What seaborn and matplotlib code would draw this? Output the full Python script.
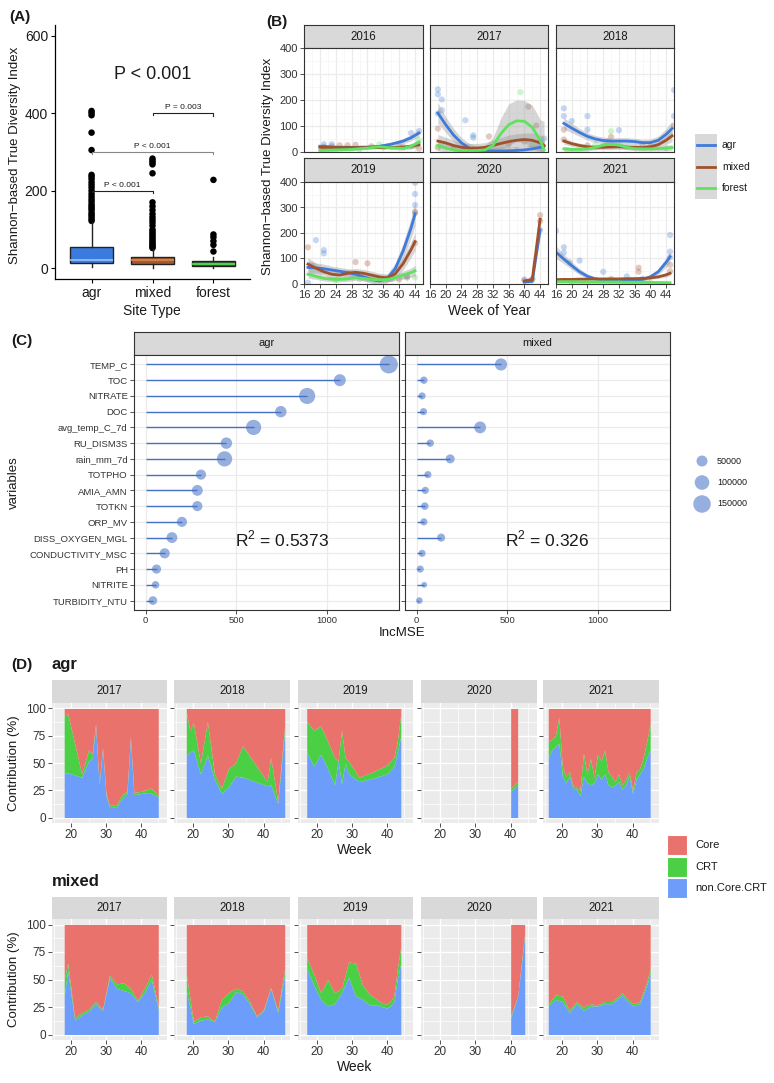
import matplotlib
matplotlib.use("Agg")
import matplotlib.pyplot as plt
from matplotlib.patches import Rectangle
import numpy as np
import pandas as pd
import seaborn as sns

plt.rcParams['font.family'] = ['Liberation Sans', 'DejaVu Sans']

W, H = 774, 1083

# ---------------- data: (A) boxplot summary + outliers
sites = ["agr", "mixed", "forest"]
box_q1 = [13, 11, 6]
box_med = [22, 20, 12]
box_q3 = [55, 30, 18]
box_lo = [2, 1, 0]
box_hi = [118, 50, 28]
out_agr = [122, 127, 133, 138, 143, 150, 155, 160, 165, 172, 178, 185, 192, 200,
           208, 215, 222, 230, 236, 241, 305, 350, 395, 401, 406]
out_mixed = [52, 55, 58, 62, 66, 70, 75, 80, 85, 90, 95, 100, 110, 118, 125, 132,
             140, 150, 160, 170, 245, 268, 273, 278, 283]
out_forest = [43, 60, 70, 80, 87, 228]

# ---------------- data: (B) smoothed diversity by week, per year
years_b = [2016, 2017, 2018, 2019, 2020, 2021]
smooth_week = {
    2016: [20, 24, 28, 32, 35, 38, 41, 43, 45],
    2017: [18, 20, 22, 24, 26, 28, 30, 32, 34, 36, 38, 40, 42, 44, 45],
    2018: [18, 20, 22, 24, 26, 28, 30, 32, 34, 36, 38, 40, 42, 44, 45.5],
    2019: [17, 19, 21, 23, 25, 27, 29, 31, 33, 35, 37, 39, 41, 43, 44],
    2020: [40, 42, 44],
    2021: [16, 18, 20, 22, 24, 26, 28, 30, 32, 34, 36, 38, 40, 42, 44, 45],
}
fit_agr = {
    2016: [22, 19, 18, 19, 22, 30, 42, 55, 73],
    2017: [150, 105, 65, 35, 15, 8, 5, 4, 4, 5, 6, 8, 12, 18, 22],
    2018: [110, 92, 75, 60, 50, 44, 42, 42, 42, 40, 36, 36, 45, 68, 90],
    2019: [65, 63, 60, 55, 50, 45, 38, 28, 18, 12, 22, 60, 130, 220, 275],
    2020: [8, 10, 212],
    2021: [125, 98, 72, 48, 30, 20, 15, 12, 12, 12, 14, 18, 28, 48, 85, 107],
}
se_agr = {
    2016: [8, 6, 6, 6, 6, 8, 10, 12, 15],
    2017: [40, 30, 25, 20, 18, 15, 15, 15, 15, 15, 15, 15, 15, 18, 22],
    2018: [22, 18, 15, 14, 13, 13, 13, 13, 13, 13, 13, 14, 16, 22, 30],
    2019: [25, 20, 18, 15, 15, 15, 15, 15, 15, 15, 18, 22, 30, 40, 45],
    2020: [5, 5, 10],
    2021: [25, 18, 15, 12, 10, 8, 8, 8, 8, 8, 8, 8, 10, 12, 18, 22],
}
fit_mixed = {
    2016: [18, 17, 17, 17, 17, 17, 19, 22, 28],
    2017: [42, 35, 25, 18, 15, 15, 18, 25, 33, 40, 45, 48, 45, 35, 25],
    2018: [42, 32, 25, 20, 18, 18, 19, 20, 19, 18, 17, 20, 28, 45, 62],
    2019: [78, 62, 48, 38, 35, 42, 46, 42, 35, 28, 24, 40, 80, 135, 166],
    2020: [12, 18, 254],
    2021: [17, 18, 18, 19, 19, 20, 20, 20, 20, 21, 21, 22, 24, 28, 36, 42],
}
se_mixed = {
    2016: [6, 5, 5, 5, 5, 5, 6, 8, 12],
    2017: [25, 22, 20, 18, 18, 18, 18, 20, 22, 25, 25, 25, 28, 30, 35],
    2018: [12, 10, 9, 9, 9, 9, 10, 10, 9, 9, 9, 10, 12, 16, 22],
    2019: [25, 20, 15, 15, 15, 15, 15, 15, 15, 15, 15, 20, 25, 30, 35],
    2020: [5, 5, 12],
    2021: [6, 5, 5, 5, 5, 5, 5, 5, 5, 5, 5, 5, 5, 6, 8, 10],
}
fit_forest = {
    2016: [6, 8, 10, 15, 20, 16, 14, 22, 38],
    2017: [25, 15, 8, 5, 5, 6, 8, 25, 70, 105, 120, 118, 95, 45, 8],
    2018: [12, 10, 10, 12, 18, 26, 30, 26, 18, 13, 12, 12, 13, 15, 17],
    2019: [38, 30, 22, 19, 18, 20, 24, 22, 18, 16, 18, 25, 35, 45, 52],
    2020: [],
    2021: [9, 9, 9, 8, 8, 8, 8, 8, 8, 7, 7, 7, 6, 6, 5, 5],
}
se_forest = {
    2016: [5, 5, 5, 5, 5, 6, 7, 9, 12],
    2017: [20, 18, 15, 15, 15, 15, 18, 30, 60, 80, 80, 80, 85, 80, 110],
    2018: [10, 8, 8, 8, 9, 10, 10, 10, 9, 8, 8, 8, 9, 10, 12],
    2019: [15, 12, 10, 10, 10, 10, 10, 10, 10, 10, 10, 12, 15, 18, 22],
    2020: [],
    2021: [5, 5, 5, 5, 5, 5, 5, 5, 5, 5, 5, 5, 5, 5, 6, 6],
}
# raw samples (week, value, site)
pt_week = {
    2016: [21, 23, 21, 43, 45, 40, 36, 21, 23, 25, 27, 29, 33, 45, 41, 35, 45, 43, 30],
    2017: [18, 18, 19, 19, 18, 25, 27, 27, 45, 44, 30, 38, 18, 18, 31, 41, 43, 40, 36, 22, 18, 39, 42, 30],
    2018: [18, 18, 20, 24, 24, 32, 46, 46, 29, 38, 18, 18, 30, 46, 40, 24, 30, 26, 44],
    2019: [17, 19, 21, 21, 18, 44, 44, 44, 42, 38, 17, 29, 32, 44, 44, 42, 40, 44, 44, 41, 24, 30],
    2020: [40, 42, 44, 40, 42, 44, 44],
    2021: [16, 18, 18, 19.5, 22, 28, 34, 45, 45, 45, 38, 37, 37, 45, 45, 30, 20, 40],
}
pt_value = {
    2016: [30, 30, 20, 73, 81, 25, 18, 17, 22, 26, 26, 28, 22, 13, 20, 30, 45, 20, 10],
    2017: [241, 222, 202, 161, 148, 122, 64, 55, 52, 40, 10, 8, 90, 17, 60, 174, 102, 40, 30, 15, 22, 230, 30, 5],
    2018: [168, 138, 119, 138, 86, 84, 238, 138, 40, 30, 48, 86, 58, 100, 20, 25, 80, 30, 15],
    2019: [5, 172, 133, 120, 70, 397, 353, 310, 30, 20, 144, 86, 81, 284, 277, 25, 18, 160, 26, 30, 15, 20],
    2020: [18, 20, 212, 13, 18, 270, 247],
    2021: [209, 144, 123, 84, 92, 48, 30, 192, 127, 105, 20, 64, 48, 75, 50, 20, 5, 5],
}
pt_site = {
    2016: ["agr"] * 7 + ["mixed"] * 8 + ["forest"] * 4,
    2017: ["agr"] * 12 + ["mixed"] * 8 + ["forest"] * 4,
    2018: ["agr"] * 10 + ["mixed"] * 6 + ["forest"] * 3,
    2019: ["agr"] * 10 + ["mixed"] * 8 + ["forest"] * 4,
    2020: ["agr"] * 3 + ["mixed"] * 4,
    2021: ["agr"] * 11 + ["mixed"] * 5 + ["forest"] * 2,
}

# ---------------- data: (C) random forest importance
c_vars = ["TEMP_C", "TOC", "NITRATE", "DOC", "avg_temp_C_7d", "RU_DISM3S", "rain_mm_7d",
          "TOTPHO", "AMIA_AMN", "TOTKN", "ORP_MV", "DISS_OXYGEN_MGL", "CONDUCTIVITY_MSC",
          "PH", "NITRITE", "TURBIDITY_NTU"]
inc_mse_agr = [1340, 1070, 890, 745, 595, 445, 435, 305, 285, 285, 200, 145, 105, 60, 55, 40]
purity_agr = [160000, 62000, 125000, 55000, 110000, 55000, 110000, 40000, 48000, 40000,
              40000, 48000, 40000, 30000, 15000, 25000]
inc_mse_mixed = [465, 40, 30, 38, 350, 75, 185, 62, 48, 45, 40, 135, 30, 20, 42, 15]
purity_mixed = [65000, 14000, 12000, 12000, 60000, 14000, 28000, 12000, 12000, 15000,
                12000, 20000, 12000, 12000, 2000, 8000]
r2_text = {"agr": r"R$^{\mathregular{2}}$ = 0.5373", "mixed": r"R$^{\mathregular{2}}$ = 0.326"}
size_legend = [50000, 100000, 150000]

# ---------------- data: (D) contribution (%) per week; Core = remainder to 100
years_d = [2017, 2018, 2019, 2020, 2021]
agr_week = {
    2017: [18, 19, 21, 23, 25, 26, 27, 28, 29, 30, 31, 32, 33, 34, 35, 36, 37, 38, 40, 42, 43, 45],
    2018: [18, 19, 20, 22, 24, 26, 28, 30, 32, 34, 41, 42, 44, 46],
    2019: [17, 19, 21, 23, 25, 26, 27, 28, 29, 32, 36, 40, 42, 43, 44],
    2020: [40, 42],
    2021: list(range(16, 46)),
}
agr_noncore = {
    2017: [41, 41, 39, 37, 52, 54, 84, 30, 63, 20, 10, 10, 9, 15, 19, 22, 72, 21, 22, 23, 22, 19],
    2018: [57, 60, 62, 40, 57, 35, 22, 28, 38, 37, 29, 30, 13, 80],
    2019: [60, 47, 58, 45, 30, 52, 31, 50, 40, 33, 36, 40, 47, 60, 75],
    2020: [24, 30],
    2021: [55, 62, 65, 68, 38, 32, 38, 27, 26, 20, 38, 32, 30, 32, 40, 35, 40, 30, 28, 30,
           33, 26, 30, 38, 22, 35, 40, 45, 55, 62],
}
agr_crt = {
    2017: [53, 54, 29, 3, 10, 4, 2, 2, 1, 2, 1, 2, 2, 3, 3, 2, 2, 2, 2, 3, 5, 1],
    2018: [40, 20, 25, 10, 31, 5, 5, 17, 12, 29, 4, 25, 2, 5],
    2019: [28, 33, 26, 25, 25, 0, 49, 5, 12, 4, 6, 8, 8, 10, 20],
    2020: [3, 3],
    2021: [15, 10, 10, 24, 9, 6, 4, 2, 2, 5, 21, 8, 24, 5, 18, 17, 22, 12, 10, 3,
           7, 4, 5, 4, 3, 7, 5, 10, 15, 24],
}
mixed_week = {
    2017: [18, 19, 21, 23, 25, 27, 29, 31, 33, 35, 37, 39, 41, 43, 45],
    2018: [18, 20, 22, 24, 26, 28, 30, 32, 34, 36, 38, 40, 42, 44, 46],
    2019: [17, 19, 21, 23, 25, 27, 29, 31, 33, 35, 37, 39, 40, 41, 42, 43, 44],
    2020: [40, 42, 44],
    2021: [16, 18, 20, 22, 24, 26, 28, 30, 32, 34, 36, 37, 38, 40, 42, 44, 45],
}
mixed_noncore = {
    2017: [35, 58, 13, 18, 21, 28, 22, 52, 42, 40, 38, 30, 38, 50, 23],
    2018: [40, 10, 13, 14, 12, 25, 29, 39, 37, 28, 16, 22, 42, 20, 55],
    2019: [60, 45, 32, 26, 28, 38, 52, 35, 32, 27, 27, 25, 24, 26, 30, 50, 65],
    2020: [15, 35, 90],
    2021: [26, 32, 30, 20, 28, 22, 26, 26, 28, 28, 33, 36, 32, 26, 28, 45, 55],
}
mixed_crt = {
    2017: [15, 7, 2, 2, 2, 2, 1, 2, 4, 7, 4, 1, 4, 5, 2],
    2018: [15, 2, 3, 3, 0, 7, 9, 3, 3, 2, 1, 1, 1, 2, 5],
    2019: [10, 10, 6, 24, 10, 4, 14, 30, 13, 10, 5, 3, 4, 4, 5, 10, 15],
    2020: [2, 0, 2],
    2021: [2, 4, 5, 2, 2, 3, 2, 1, 2, 2, 2, 2, 2, 2, 2, 3, 5],
}

# ---------------- styling
site_cols = {"agr": "#3F7BDA", "mixed": "#A0522D", "forest": "#5EE35E"}
box_cols = ["#3A7BE0", "#A65B2A", "#2F6A2F"]
med_cols = ["#9CC2F5", "#D68A55", "#5EE35E"]
seg_col = "#4472C4"
pt_col = "#7D9BD8"
core_col, crt_col, non_col = "#E9726D", "#4ACF45", "#6C9DFA"
TXT = "#1A1A1A"

fig = plt.figure(figsize=(W / 100, H / 100), dpi=100)


def px_axes(l, t, r, b):
    return fig.add_axes([l / W, 1 - b / H, (r - l) / W, (b - t) / H])


def strip(l, t, r, b, label, border=True, size=8):
    sa = px_axes(l, t, r, b)
    sa.set_facecolor("#D9D9D9")
    sa.set_xticks([])
    sa.set_yticks([])
    for sp in sa.spines.values():
        sp.set_visible(border)
        sp.set_color("#333333")
        sp.set_linewidth(0.8)
    sa.text(0.5, 0.5, label, ha="center", va="center", fontsize=size, color=TXT,
            transform=sa.transAxes)


def bw_style(ax, size=7.5):
    ax.set_facecolor("white")
    for sp in ax.spines.values():
        sp.set_color("#333333")
        sp.set_linewidth(0.8)
    ax.grid(which="major", color="#EBEBEB", lw=0.9)
    ax.grid(which="minor", color="#F4F4F4", lw=0.5)
    ax.set_axisbelow(True)
    ax.tick_params(which="major", length=3, color="#333333", width=0.6,
                   labelsize=size, labelcolor="#333333", pad=1.5)
    ax.tick_params(which="minor", length=0)
    ax.set_xlabel("")
    ax.set_ylabel("")


# ================= (A)
ax = px_axes(55, 25, 250, 279)
stats = [dict(med=m, q1=a, q3=b, whislo=lo, whishi=hi, fliers=[])
         for m, a, b, lo, hi in zip(box_med, box_q1, box_q3, box_lo, box_hi)]
bp = ax.bxp(stats, positions=[0, 1, 2], widths=0.7, patch_artist=True, showfliers=False,
            boxprops=dict(linewidth=1.0, edgecolor="#222222"),
            medianprops=dict(linewidth=1.2), whiskerprops=dict(linewidth=1.0, color="#222222"),
            capprops=dict(linewidth=0))
for patch, c in zip(bp["boxes"], box_cols):
    patch.set_facecolor(c)
for med, c in zip(bp["medians"], med_cols):
    med.set_color(c)
df_out = pd.DataFrame({
    "pos": [0] * len(out_agr) + [1] * len(out_mixed) + [2] * len(out_forest),
    "value": out_agr + out_mixed + out_forest})
sns.scatterplot(data=df_out, x="pos", y="value", color="black", s=22, edgecolor="none", ax=ax)
ax.set_xlim(-0.6, 2.6)
ax.set_ylim(-28, 628)
ax.set_xticks([0, 1, 2], sites)
ax.set_yticks([0, 200, 400, 600])
for side in ["top", "right"]:
    ax.spines[side].set_visible(False)
for side in ["left", "bottom"]:
    ax.spines[side].set_linewidth(0.9)
ax.tick_params(length=3, width=0.8, labelsize=10, labelcolor=TXT, pad=2)
ax.set_xlabel("")
ax.set_ylabel("")
brackets = [(0, 1, 200, "P < 0.001", "#222222"), (0, 2, 300, "P < 0.001", "#888888"),
            (1, 2, 400, "P = 0.003", "#222222")]
for x0, x1, yb, lab, c in brackets:
    ax.plot([x0, x0, x1, x1], [yb - 4, yb, yb, yb - 6], color=c, lw=0.8)
    ax.text((x0 + x1) / 2, yb + 5, lab, ha="center", va="bottom", fontsize=6, color=TXT)
ax.text(1, 500, "P < 0.001", ha="center", va="center", fontsize=13, color=TXT)

# ================= (B)
b_cols = [(304, 423), (430, 548), (556, 674)]
b_rows = [((25, 48), (48, 152)), ((158, 182), (182, 284))]
for k, yr in enumerate(years_b):
    r, c = divmod(k, 3)
    (st, sb), (pt, pb) = b_rows[r]
    l, rr = b_cols[c]
    strip(l, st, rr, sb, str(yr), size=8.3)
    ax = px_axes(l, pt, rr, pb)
    wk = smooth_week[yr]
    rows = []
    for site, fits, ses in [("agr", fit_agr, se_agr), ("mixed", fit_mixed, se_mixed),
                            ("forest", fit_forest, se_forest)]:
        if not fits[yr]:
            continue
        for w, f, s in zip(wk, fits[yr], ses[yr]):
            rows.append((site, w, f, f - s, f + s))
    df_s = pd.DataFrame(rows, columns=["site", "week", "fit", "lo", "hi"])
    df_p = pd.DataFrame({"week": pt_week[yr], "value": pt_value[yr], "site": pt_site[yr]})
    sns.scatterplot(data=df_p, x="week", y="value", hue="site", palette=site_cols,
                    alpha=0.3, s=20, edgecolor="none", legend=False, ax=ax)
    for site, g in df_s.groupby("site", sort=False):
        ax.fill_between(g["week"], g["lo"].clip(lower=0), g["hi"], color="#999999",
                        alpha=0.4, lw=0)
    sns.lineplot(data=df_s, x="week", y="fit", hue="site", palette=site_cols,
                 linewidth=2, legend=False, errorbar=None, ax=ax)
    ax.set_xlim(16, 46)
    ax.set_ylim(0, 400)
    ax.set_xticks(range(16, 45, 4))
    ax.set_xticks(range(18, 45, 4), minor=True)
    ax.set_yticks(range(0, 401, 100))
    ax.set_yticks(range(50, 400, 100), minor=True)
    bw_style(ax, 8)
    if c != 0:
        ax.tick_params(axis="y", labelleft=False, length=0)
    if r == 0:
        ax.tick_params(axis="x", labelbottom=False, length=0)

# ================= (C)
c_cols = [("agr", 134, 399, inc_mse_agr, purity_agr), ("mixed", 405, 670, inc_mse_mixed, purity_mixed)]
for j, (site, l, rr, mse, pur) in enumerate(c_cols):
    strip(l, 332, rr, 355, site, size=8)
    ax = px_axes(l, 355, rr, 610)
    df_c = pd.DataFrame({"pos": np.arange(len(c_vars)), "IncMSE": mse, "purity": pur})
    ax.hlines(df_c["pos"], 0, df_c["IncMSE"], color=seg_col, lw=1.0)
    sns.scatterplot(data=df_c, x="IncMSE", y="pos", size="purity", sizes=(15, 207),
                    size_norm=(0, 200000), color=pt_col, alpha=0.8, edgecolor="none",
                    legend=False, ax=ax)
    ax.set_xlim(-64, 1396)
    ax.set_ylim(15.6, -0.6)
    ax.set_xticks([0, 500, 1000])
    ax.set_yticks(np.arange(len(c_vars)), c_vars)
    bw_style(ax, 6.8)
    if j == 1:
        ax.tick_params(axis="y", labelleft=False)
    ax.text(752 if j == 0 else 720, 11.1, r2_text[site], ha="center", va="center",
            fontsize=12.5, color=TXT)

# ================= (D)
d_cols = [(52, 167), (174, 290), (298, 413), (421, 537), (543, 659)]
d_blocks = [((680, 703), (703, 823), agr_week, agr_noncore, agr_crt),
            ((897, 919), (919, 1040), mixed_week, mixed_noncore, mixed_crt)]
for (st, sb), (pt, pb), wks, nonc, crt in d_blocks:
    for c, yr in enumerate(years_d):
        l, rr = d_cols[c]
        strip(l, st, rr, sb, str(yr), border=False, size=8.3)
        ax = px_axes(l, pt, rr, pb)
        w = np.array(wks[yr], dtype=float)
        n = np.array(nonc[yr], dtype=float)
        g = n + np.array(crt[yr], dtype=float)
        ax.fill_between(w, 0, n, color=non_col, lw=0)
        ax.fill_between(w, n, g, color=crt_col, lw=0)
        ax.fill_between(w, g, 100, color=core_col, lw=0)
        ax.set_facecolor("#EBEBEB")
        for sp in ax.spines.values():
            sp.set_visible(False)
        ax.set_xlim(14.5, 47.5)
        ax.set_ylim(-5, 105)
        ax.set_xticks([20, 30, 40])
        ax.set_xticks([15, 25, 35, 45], minor=True)
        ax.set_yticks([0, 25, 50, 75, 100])
        ax.set_yticks([12.5, 37.5, 62.5, 87.5], minor=True)
        ax.grid(which="major", color="white", lw=1.0)
        ax.grid(which="minor", color="white", lw=0.5)
        ax.set_axisbelow(True)
        ax.tick_params(which="major", length=3, color="#333333", width=0.6,
                       labelsize=8.5, labelcolor="#333333", pad=1.5)
        ax.tick_params(which="minor", length=0)
        if c != 0:
            ax.tick_params(axis="y", labelleft=False)

# ================= overlay texts and legends
ov = fig.add_axes([0, 0, 1, 1], zorder=10)
ov.set_xlim(0, W)
ov.set_ylim(H, 0)
ov.axis("off")
ov.patch.set_alpha(0)


def t(x, y, s, **kw):
    kw.setdefault("color", TXT)
    kw.setdefault("va", "center")
    ov.text(x, y, s, **kw)


t(9, 17, "(A)", fontsize=11, fontweight="bold")
t(15, 155, "Shannon\u2212based True Diversity Index", fontsize=9.5, rotation=90, ha="center")
t(152, 311, "Site Type", fontsize=10, ha="center")
t(266, 22, "(B)", fontsize=11, fontweight="bold")
t(268, 166, "Shannon\u2212based True Diversity Index", fontsize=9.5, rotation=90, ha="center")
t(489, 311, "Week of Year", fontsize=10, ha="center")
t(11, 341, "(C)", fontsize=11, fontweight="bold")
t(14, 483, "variables", fontsize=9.5, rotation=90, ha="center")
t(402, 633, "IncMSE", fontsize=9.5, ha="center")
t(11, 665, "(D)", fontsize=11, fontweight="bold")
t(52, 665, "agr", fontsize=12, fontweight="bold")
t(52, 881, "mixed", fontsize=12, fontweight="bold")
for yc, yw in [(763, 850), (979, 1067)]:
    t(14, yc, "Contribution (%)", fontsize=9.5, rotation=90, ha="center")
    t(355, yw, "Week", fontsize=10, ha="center")

# (B) legend
ov.add_patch(Rectangle((695, 134), 22, 65, facecolor="#D9D9D9", edgecolor="none"))
for i, site in enumerate(sites):
    yk = 145 + i * 21.5
    ov.plot([697, 715], [yk, yk], color=site_cols[site], lw=2)
    t(722, yk, site, fontsize=7.5)

# (C) legend
for i, v in enumerate(size_legend):
    yk = 461 + i * 21.5
    ov.scatter([702], [yk], s=15 + 192 * v / 200000, color=pt_col, alpha=0.8, edgecolor="none")
    t(717, yk, str(v), fontsize=6.5)

# (D) legend
for i, (lab, col) in enumerate([("Core", core_col), ("CRT", crt_col), ("non.Core.CRT", non_col)]):
    yk = 835 + i * 21.5
    ov.add_patch(Rectangle((667, yk), 20, 20, facecolor=col, edgecolor="white", lw=0.8))
    t(695, yk + 10, lab, fontsize=8)

fig.savefig("out.png", dpi=100)
